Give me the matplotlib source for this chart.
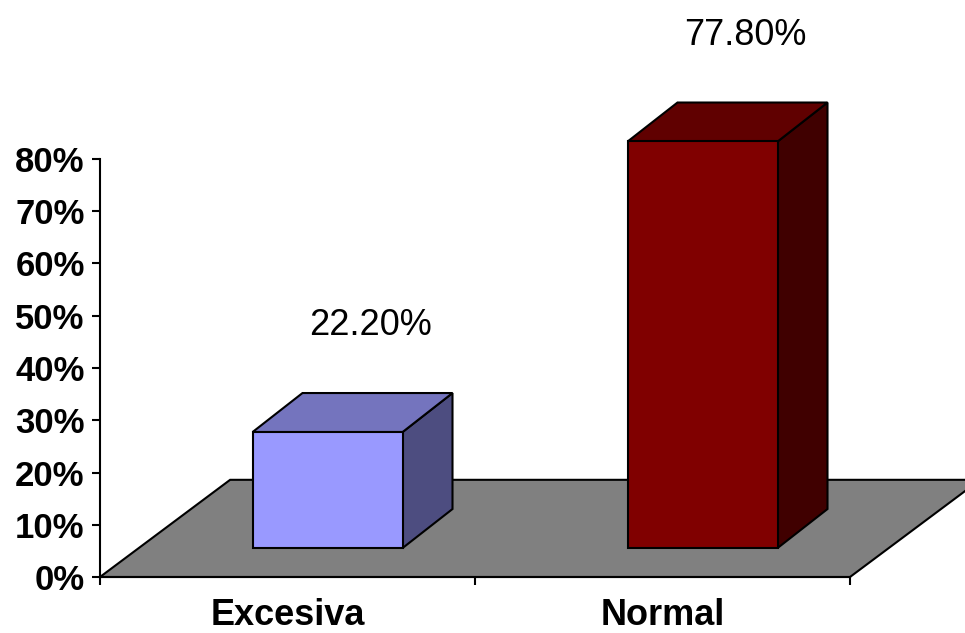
import matplotlib
matplotlib.use('Agg')
import matplotlib.pyplot as plt
from matplotlib.patches import Polygon
import matplotlib.ticker as mtick

# ── Data ──────────────────────────────────────────────────────────────────────
categories = ['Excesiva', 'Normal']
values     = [22.2, 77.8]
y_ticks    = [0, 10, 20, 30, 40, 50, 60, 70, 80]

# ── Style ─────────────────────────────────────────────────────────────────────
FRONT = ['#9999ff', '#800000']
TOP   = ['#7474be', '#600000']
SIDE  = ['#4d4d80', '#400000']
FLOOR = '#808080'
FONT  = 'Liberation Sans'

BAR_W     = 0.40           # bar width in category units
FRONT_DX  = 0.107          # bar front face shift (depth) in x units
FRONT_DY  = 5.55           # ... and in percent
DEPTH_DX  = 0.133          # bar depth in x units
DEPTH_DY  = 7.46           # ... and in percent
FLOOR_DX  = 0.347          # floor depth in x units
FLOOR_DY  = 18.6           # ... and in percent
LABEL_DX  = 0.115
LABEL_DY  = 18.55

W, H, DPI = 965, 633, 100
fig = plt.figure(figsize=(W / DPI, H / DPI), dpi=DPI)
fig.patch.set_facecolor('white')
ax = fig.add_axes([100 / W, 56 / H, 750 / W, 418 / H])
ax.set_xlim(0, len(categories))
ax.set_ylim(0, 80)
ax.patch.set_visible(False)

# floor
n = len(categories)
floor = Polygon([(0, 0), (n, 0), (n + FLOOR_DX, FLOOR_DY), (FLOOR_DX, FLOOR_DY)],
                closed=True, facecolor=FLOOR, edgecolor='black', lw=1.5,
                clip_on=False, zorder=1)
ax.add_patch(floor)

# 3D-looking bars
for i, v in enumerate(values):
    x0 = i + 0.5 - BAR_W / 2 + FRONT_DX
    x1 = x0 + BAR_W
    y0 = FRONT_DY
    y1 = FRONT_DY + v
    front = [(x0, y0), (x1, y0), (x1, y1), (x0, y1)]
    top   = [(x0, y1), (x1, y1), (x1 + DEPTH_DX, y1 + DEPTH_DY), (x0 + DEPTH_DX, y1 + DEPTH_DY)]
    side  = [(x1, y0), (x1 + DEPTH_DX, y0 + DEPTH_DY), (x1 + DEPTH_DX, y1 + DEPTH_DY), (x1, y1)]
    for pts, col in ((side, SIDE[i]), (top, TOP[i]), (front, FRONT[i])):
        ax.add_patch(Polygon(pts, closed=True, facecolor=col, edgecolor='black',
                             lw=1.5, joinstyle='miter', clip_on=False, zorder=3))
    ax.text(i + 0.5 + FRONT_DX + LABEL_DX, y1 + LABEL_DY, f'{v:.2f}%',
            ha='center', va='baseline', fontsize=26, family=FONT, color='black')

# axes styling
for s in ('top', 'right'):
    ax.spines[s].set_visible(False)
for s in ('left', 'bottom'):
    ax.spines[s].set_linewidth(1.5)
    ax.spines[s].set_zorder(2)

ax.set_yticks(y_ticks)
ax.yaxis.set_major_formatter(mtick.FuncFormatter(lambda y, _: f'{y:.0f}%'))
ax.tick_params(axis='y', direction='out', length=6, width=1.5, pad=5)
for lab in ax.get_yticklabels():
    lab.set_fontsize(25)
    lab.set_fontweight('bold')
    lab.set_family(FONT)

ax.set_xticks(range(n + 1))
ax.set_xticklabels([])
ax.set_xticks([i + 0.5 for i in range(n)], minor=True)
ax.set_xticklabels(categories, minor=True)
ax.tick_params(axis='x', which='major', direction='out', length=6, width=1.5)
ax.tick_params(axis='x', which='minor', length=0, pad=15)
for lab in ax.get_xticklabels(minor=True):
    lab.set_fontsize(26)
    lab.set_fontweight('bold')
    lab.set_family(FONT)

fig.savefig('out.png', dpi=DPI, facecolor='white')
